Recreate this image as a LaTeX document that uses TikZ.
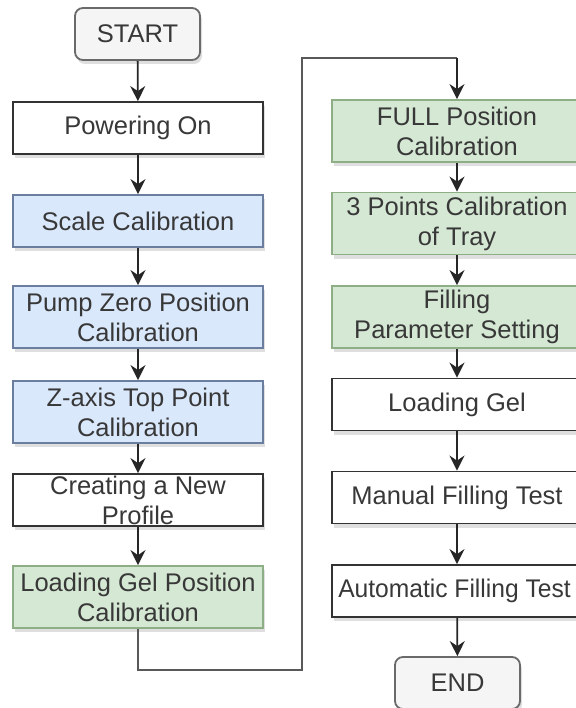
\documentclass[tikz,border=0pt]{standalone}
\usepackage{fontspec}
\setmainfont{Liberation Sans}
\usetikzlibrary{arrows.meta,shadows}
\definecolor{txt}{HTML}{383838}
\definecolor{bluefill}{HTML}{DAE8FC}
\definecolor{blueline}{HTML}{6C7E9F}
\definecolor{greenfill}{HTML}{D5E8D4}
\definecolor{greenline}{HTML}{8EAF86}
\definecolor{termfill}{HTML}{F5F5F5}
\definecolor{termline}{HTML}{6A6A6A}
\tikzset{
  x=1pt, y=-1pt,
  base/.style={minimum width=250pt, inner sep=0pt, align=center, text=txt,
    line width=1.8pt, font=\fontsize{25.5}{30}\selectfont,
    drop shadow={opacity=0.25, shadow xshift=2pt, shadow yshift=-4pt}},
  plain/.style={base, draw=black!80, fill=white},
  bluebox/.style={base, draw=blueline, fill=bluefill},
  greenbox/.style={base, draw=greenline, fill=greenfill},
  term/.style={base, minimum width=125pt, minimum height=52pt, rounded corners=8pt,
    draw=termline, fill=termfill},
  flow/.style={line width=1.8pt, draw=black!85, -{Stealth[length=15pt,width=15pt,inset=5pt]}},
  link/.style={line width=1.8pt, draw=black!65}
}
\begin{document}
\begin{tikzpicture}
\useasboundingbox (0,0) rectangle (575,708);
\fill[white] (0,0) rectangle (575,708);

% left column
\node[term] (start) at (137.5,34) {START};
\node[plain, minimum height=52pt] (power) at (138,128) {Powering On};
\node[bluebox, minimum height=52pt] (scale) at (138,221) {Scale Calibration};
\node[bluebox, minimum height=62pt] (pump) at (138,317) {Pump Zero Position\\Calibration};
\node[bluebox, minimum height=62pt] (zaxis) at (138,412) {Z-axis Top Point\\Calibration};
\node[plain, minimum height=52pt] (profile) at (138,500) {Creating a New\\Profile};
\node[greenbox, minimum height=62pt] (gelpos) at (138,597) {Loading Gel Position\\Calibration};

% right column (boxes run past the right edge of the page)
\node[greenbox, minimum height=62pt] (full) at (457,131) {FULL Position\\Calibration};
\node[greenbox, minimum height=62pt] (tray) at (457,223.5) {3 Points Calibration\\of Tray};
\node[greenbox, minimum height=62pt] (param) at (457,317) {Filling\\Parameter Setting};
\node[plain, minimum height=52pt] (gel) at (457,404.5) {Loading Gel};
\node[plain, minimum height=52pt] (manual) at (457,497.5) {Manual Filling Test};
\node[plain, minimum height=52pt] (auto) at (457,591)
  {\scalebox{0.965}[1]{Automatic Filling Test}\hspace*{5pt}};
\node[term] (end) at (457.5,683) {END};

% link between the columns
\coordinate (c1) at (138,670);
\coordinate (c2) at (302,670);
\coordinate (c3) at (302,58);
\coordinate (c4) at (457,58);
\draw[link] (gelpos.south) -- (c1) -- (c2) -- (c3) -- (c4);
\draw[flow] (c4) -- (full.north);

\draw[flow] (start) -- (power);
\draw[flow] (power) -- (scale);
\draw[flow] (scale) -- (pump);
\draw[flow] (pump) -- (zaxis);
\draw[flow] (zaxis) -- (profile);
\draw[flow] (profile) -- (gelpos);

\draw[flow] (full) -- (tray);
\draw[flow] (tray) -- (param);
\draw[flow] (param) -- (gel);
\draw[flow] (gel) -- (manual);
\draw[flow] (manual) -- (auto);
\draw[flow] (auto) -- (end);
\end{tikzpicture}
\end{document}
